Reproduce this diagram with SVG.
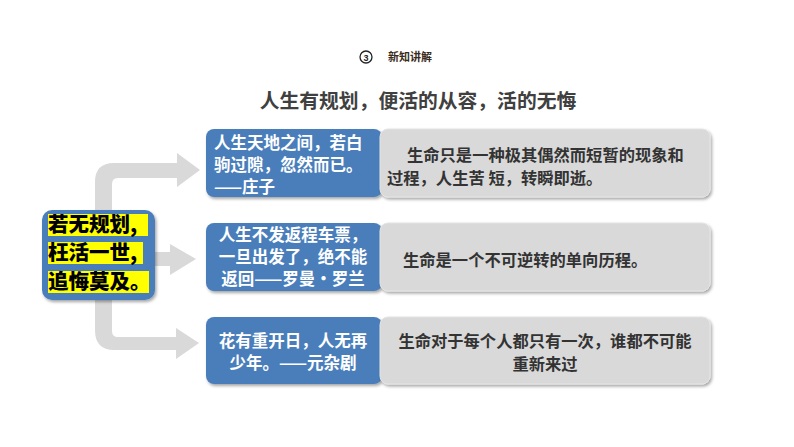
<svg xmlns="http://www.w3.org/2000/svg" width="794" height="447" viewBox="0 0 794 447">
<defs>
<filter id="sh" x="-10%" y="-10%" width="125%" height="130%">
<feDropShadow dx="1.5" dy="2" stdDeviation="1.5" flood-color="#000" flood-opacity="0.35"/>
</filter>
<style>
.blue{fill:#4a7ebb;filter:url(#sh)}
.gray{fill:#d9d9d9;stroke:#e4e4e4;stroke-width:1;filter:url(#sh)}
.wt{font-family:"Noto Sans CJK SC","Noto Sans",sans-serif;font-weight:bold;font-size:16.5px;fill:#fff}
.gt{font-family:"Noto Sans CJK SC","Noto Sans",sans-serif;font-weight:bold;font-size:16.3px;fill:#333}
.yt{font-family:"Noto Sans CJK SC","Noto Sans",sans-serif;font-weight:900;font-size:20.5px;fill:#000}
.arr{fill:#d9d9d9}
</style>
</defs>
<rect width="794" height="447" fill="#fff"/>
<g id="header">
<circle cx="366" cy="57" r="6" fill="none" stroke="#222" stroke-width="1.3"/>
<text x="366" y="60.5" font-family="Liberation Sans,sans-serif" font-size="9" font-weight="bold" text-anchor="middle" fill="#222">3</text>
<text x="388" y="61" font-family="'Noto Sans CJK SC',sans-serif" font-size="11" font-weight="bold" fill="#3a2a1a">新知讲解</text>
</g>
<g id="title">
<text x="418" y="108" font-family="'Noto Sans CJK SC',sans-serif" font-size="19.8" font-weight="bold" fill="#404040" text-anchor="middle">人生有规划，便活的从容，活的无悔</text>
</g>
<g id="connectors">
<path class="arr" d="M95,214 V182 Q95,163 114,163 H177 V153 L200,170 L177,187 V178 H118 Q112,178 112,184 V214 Z"/>
<path class="arr" d="M155,252 H170 V244 L196,259 L170,275 V266 H155 Z"/>
<path class="arr" d="M95,298 V330 Q95,350 114,350 H176 V359 L199,343 L176,328 V337 H118 Q112,337 112,331 V298 Z"/>
</g>
<g id="left">
<rect class="blue" x="42" y="210" width="113" height="90" rx="10"/>
<rect x="48" y="214" width="100" height="22" fill="#ffff00"/>
<rect x="48" y="242" width="95" height="22" fill="#ffff00"/>
<rect x="48" y="271" width="101" height="22" fill="#ffff00"/>
<text class="yt" x="48" y="232">若无规划,</text>
<text class="yt" x="48" y="260">枉活一世,</text>
<text class="yt" x="48" y="289">追悔莫及。</text>
</g>
<g id="quote1">
<rect class="blue" x="206" y="129" width="176" height="68" rx="8"/>
<text class="wt" x="214" y="149">人生天地之间，若白</text>
<text class="wt" x="214" y="171">驹过隙，忽然而已。</text>
<text class="wt" x="214" y="193">——庄子</text>
</g>
<g id="meaning1">
<rect class="gray" x="380" y="129" width="330" height="68" rx="8"/>
<text class="gt" x="407" y="161">生命只是一种极其偶然而短暂的现象和</text>
<text class="gt" x="387" y="184">过程，人生苦 短，转瞬即逝。</text>
</g>
<g id="quote2">
<rect class="blue" x="206" y="223" width="176" height="68" rx="8"/>
<text class="wt" x="293" y="241" text-anchor="middle">人生不发返程车票，</text>
<text class="wt" x="293" y="263" text-anchor="middle">一旦出发了，绝不能</text>
<text class="wt" x="293" y="285" text-anchor="middle">返回——罗曼•罗兰</text>
</g>
<g id="meaning2">
<rect class="gray" x="380" y="223" width="330" height="68" rx="8"/>
<text class="gt" x="403" y="266">生命是一个不可逆转的单向历程。</text>
</g>
<g id="quote3">
<rect class="blue" x="206" y="317" width="176" height="67" rx="8"/>
<text class="wt" x="293" y="347" text-anchor="middle">花有重开日，人无再</text>
<text class="wt" x="293" y="369" text-anchor="middle">少年。——元杂剧</text>
</g>
<g id="meaning3">
<rect class="gray" x="380" y="317" width="330" height="67" rx="8"/>
<text class="gt" x="545" y="347" text-anchor="middle">生命对于每个人都只有一次，谁都不可能</text>
<text class="gt" x="545" y="370" text-anchor="middle">重新来过</text>
</g>
</svg>
